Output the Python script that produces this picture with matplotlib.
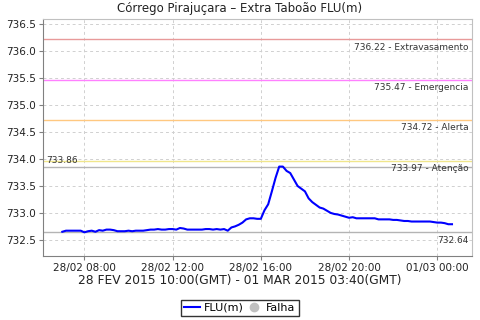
import numpy as np
import pandas as pd
import matplotlib
matplotlib.use("Agg")
import matplotlib.pyplot as plt
import matplotlib.dates as mdates
from matplotlib.lines import Line2D
from matplotlib.transforms import blended_transform_factory

# FLU(m) readings every 10 min, local time (GMT-3), 28/02 07:00 -> 01/03 00:40
flu = [
    732.65, 732.67, 732.67, 732.67, 732.67, 732.67,
    732.64, 732.66, 732.67, 732.65, 732.68, 732.67,
    732.69, 732.69, 732.68, 732.66, 732.66, 732.66,
    732.67, 732.66, 732.67, 732.67, 732.67, 732.68,
    732.69, 732.69, 732.70, 732.69, 732.69, 732.70,
    732.70, 732.69, 732.72, 732.71, 732.69, 732.69,
    732.69, 732.69, 732.69, 732.70, 732.70, 732.69,
    732.70, 732.69, 732.70, 732.67, 732.73, 732.75,
    732.78, 732.82, 732.88, 732.90, 732.90, 732.89,
    732.89, 733.05, 733.16, 733.40, 733.65, 733.86,
    733.86, 733.78, 733.74, 733.62, 733.50, 733.45,
    733.40, 733.27, 733.20, 733.15, 733.10, 733.08,
    733.04, 733.00, 732.98, 732.97, 732.95, 732.93,
    732.91, 732.92, 732.90, 732.90, 732.90, 732.90,
    732.90, 732.90, 732.88, 732.88, 732.88, 732.88,
    732.87, 732.87, 732.86, 732.85, 732.85, 732.84,
    732.84, 732.84, 732.84, 732.84, 732.84, 732.83,
    732.82, 732.82, 732.81, 732.79, 732.79,
]
times = pd.date_range("2015-02-28 07:00", periods=len(flu), freq="10min")

# threshold markers
levels = [736.22, 735.47, 734.72, 733.97]
level_names = ["Extravasamento", "Emergencia", "Alerta", "Atenção"]
level_colors = ["#e89a9a", "#ff80ff", "#ffc880", "#f0e68c"]
flu_max = 733.86
flu_min = 732.64

fig = plt.figure(figsize=(4.8, 3.2), dpi=100)
ax = fig.add_axes([0.09, 0.2, 0.893, 0.7406])

ax.grid(True, color="#d0d0d0", linestyle=(0, (3, 3)), linewidth=0.7)
ax.set_axisbelow(True)

for lv, c in zip(levels, level_colors):
    ax.axhline(lv, color=c, linewidth=1.0)
ax.axhline(flu_max, color="#b4b4b4", linewidth=1.0)
ax.axhline(flu_min, color="#b4b4b4", linewidth=1.0)

ax.plot(times, flu, color="#0000ff", linewidth=1.5)

tr = blended_transform_factory(ax.transAxes, ax.transData)
lab_kw = dict(fontsize=6.5, color="#333333", transform=tr)
for lv, name in zip(levels, level_names):
    ax.text(0.992, lv - 0.06, f"{lv:.2f} - {name}", ha="right", va="top", **lab_kw)
ax.text(0.992, flu_min - 0.06, f"{flu_min:.2f}", ha="right", va="top", **lab_kw)
ax.text(0.008, flu_max + 0.03, f"{flu_max:.2f}", ha="left", va="bottom", **lab_kw)

ax.set_xlim(pd.Timestamp("2015-02-28 06:08"), pd.Timestamp("2015-03-01 01:34"))
ax.set_ylim(732.2, 736.6)
ax.set_yticks(np.arange(732.5, 736.51, 0.5))
ax.yaxis.set_major_formatter(plt.FormatStrFormatter("%.1f"))
ax.xaxis.set_major_locator(mdates.HourLocator(byhour=[0, 8, 12, 16, 20]))
ax.xaxis.set_major_formatter(mdates.DateFormatter("%d/%m %H:%M"))
ax.tick_params(labelsize=7.5, length=3, color="#808080", labelcolor="#222222", pad=2)

for s in ["top", "right"]:
    ax.spines[s].set_color("#c0c0c0")
for s in ["left", "bottom"]:
    ax.spines[s].set_color("#808080")

fig.text(0.5, 0.972, "Córrego Pirajuçara – Extra Taboão FLU(m)", ha="center", va="center",
         fontsize=8.5, color="#222222")
fig.text(0.5, 0.122, "28 FEV 2015 10:00(GMT) - 01 MAR 2015 03:40(GMT)", ha="center",
         va="center", fontsize=8.8, color="#222222")

handles = [Line2D([], [], color="#0000ff", linewidth=1.5),
           Line2D([], [], color="#c0c0c0", marker="o", linestyle="none", markersize=6)]
leg = fig.legend(handles, ["FLU(m)", "Falha"], loc="center", bbox_to_anchor=(0.5, 0.0375),
                 ncol=2, fontsize=8, frameon=True, fancybox=False, handlelength=1.4,
                 handletextpad=0.4, columnspacing=0.2, borderpad=0.3, borderaxespad=0)
leg.get_frame().set_edgecolor("black")
leg.get_frame().set_linewidth(1.0)

fig.savefig("out.png", dpi=100)
